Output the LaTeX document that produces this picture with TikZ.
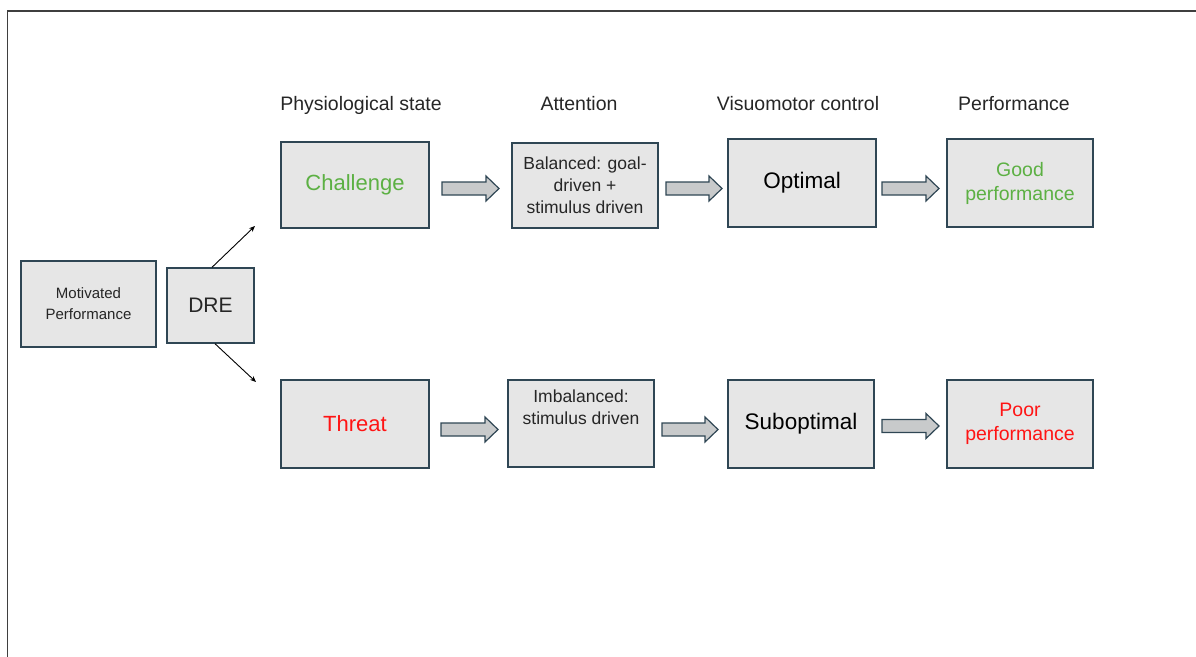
\documentclass[tikz,border=0pt]{standalone}
\usepackage{fontspec}
\setmainfont{Liberation Sans}
\usetikzlibrary{arrows.meta}
\definecolor{boxline}{HTML}{2F4654}
\definecolor{boxfill}{HTML}{E6E6E6}
\definecolor{arrfill}{HTML}{C8CACB}
\definecolor{goodgreen}{HTML}{5CB043}
\definecolor{poorred}{HTML}{FF1414}
\definecolor{txtgray}{HTML}{262626}
\definecolor{framegray}{HTML}{3F3F3F}
\tikzset{
  box/.style={draw=boxline, fill=boxfill, line width=1.4pt, rectangle, inner sep=0pt, align=center, text=txtgray},
  hdr/.style={font=\fontsize{19.5}{22}\selectfont, text=txtgray, inner sep=0pt, anchor=base},
  thinarrow/.style={-{Stealth[length=6pt,width=5pt]}, line width=0.9pt, black},
  blk/.style={draw=boxline, fill=arrfill, line width=1.2pt, line join=miter}
}
\newcommand{\blockarr}[3]{% x1, x2, yc
  \draw[blk] (#1,#3-6.5) -- (#2-13,#3-6.5) -- (#2-13,#3-12.5) -- (#2,#3) -- (#2-13,#3+12.5) -- (#2-13,#3+6.5) -- (#1,#3+6.5) -- cycle;}
\begin{document}
\begin{tikzpicture}[x=1pt,y=-1pt]
\useasboundingbox (0,0) rectangle (1196,656);
% frame
\draw[framegray, line width=1.5pt] (7.5,700) -- (7.5,10.8) -- (1250,10.8);

% headers
\node[hdr] (h1) at (361,110) {Physiological state};
\node[hdr] (h2) at (579,110) {Attention};
\node[hdr] (h3) at (798,110) {Visuomotor control};
\node[hdr] (h4) at (1014,110) {Performance};

% left boxes
\node[box, minimum width=135, minimum height=86, font=\fontsize{15}{21}\selectfont] (mot) at (88.5,304) {Motivated\\Performance};
\node[box, minimum width=87, minimum height=75, font=\fontsize{21}{24}\selectfont] (dre) at (210.5,305.5) {DRE};

% top row
\node[box, minimum width=148, minimum height=86, font=\fontsize{22}{24}\selectfont, text=goodgreen] (ch) at (355,185) {Challenge};
\node[box, minimum width=146, minimum height=85, font=\fontsize{17.5}{22}\selectfont] (bal) at (585,185.5) {Balanced: goal-\\driven +\\stimulus driven};
\node[box, minimum width=148, minimum height=88, font=\fontsize{22.5}{24}\selectfont, text=black] (opt) at (802,183) {Optimal};
\node[box, minimum width=146, minimum height=88, font=\fontsize{19.5}{24}\selectfont, text=goodgreen] (good) at (1020,183) {Good\\performance};

% bottom row
\node[box, minimum width=148, minimum height=88, font=\fontsize{22}{24}\selectfont, text=poorred] (thr) at (355,424) {Threat};
\node[box, minimum width=146, minimum height=87] (imb) at (581,423.5) {};
\node[font=\fontsize{17.5}{22}\selectfont, text=txtgray, align=center, inner sep=0pt, anchor=north] (imbt) at ([yshift=-10]imb.north) {Imbalanced:\\stimulus driven};
\node[box, minimum width=146, minimum height=88, font=\fontsize{22.5}{24}\selectfont, text=black] (sub) at (801,424) {Suboptimal};
\node[box, minimum width=146, minimum height=88, font=\fontsize{19.5}{24}\selectfont, text=poorred] (poor) at (1020,424) {Poor\\performance};

% DRE split arrows
\coordinate (upend) at (255,226);
\coordinate (dnend) at (256,382);
\draw[thinarrow] ([xshift=1.5]dre.north) -- (upend);
\draw[thinarrow] ([xshift=4.5]dre.south) -- (dnend);

% block arrows
\blockarr{442}{499}{188.5}
\blockarr{666}{722}{188.5}
\blockarr{882}{939}{188.5}
\blockarr{441}{498}{429.5}
\blockarr{662}{718}{429.5}
\blockarr{882}{939}{426}
\end{tikzpicture}
\end{document}
